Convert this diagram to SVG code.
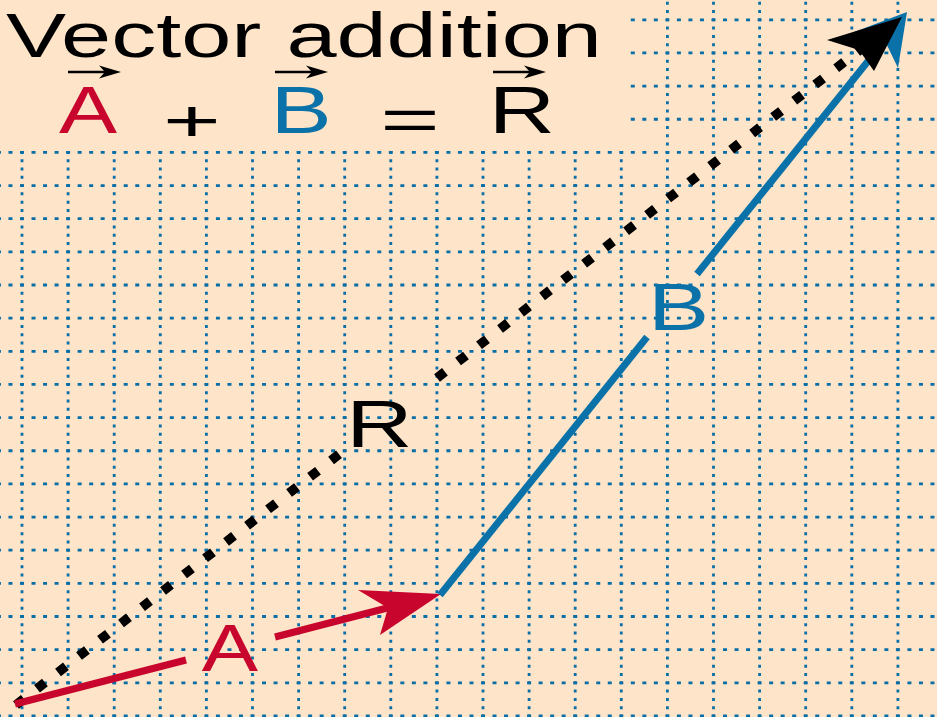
<svg xmlns="http://www.w3.org/2000/svg" xmlns:xlink="http://www.w3.org/1999/xlink" width="937" height="717" viewBox="0 0 937 717">
<style>
  .bg { fill: #FEE4C8; }
  .gv { stroke: #0A6EA6; stroke-width: 2.8; stroke-dasharray: 3 5.2875; fill: none; }
  .gh { stroke: #0A6EA6; stroke-width: 2.8; stroke-dasharray: 4 7.525; fill: none; }
  .txt { font-family: "Liberation Sans", Arial, sans-serif; }
  .red { fill: #C8052D; }
  .blue { fill: #0A72A8; }
  .blk { fill: #000; }
  .shaftA { stroke: #C8052D; stroke-width: 7; fill: none; }
  .shaftB { stroke: #0A72A8; stroke-width: 7; fill: none; }
  .shaftR { stroke: #000; stroke-width: 9.5; stroke-dasharray: 10 16.59; fill: none; }
</style>
<defs>
  <g id="ovarrow">
    <line x1="0" y1="0" x2="44" y2="0" stroke="#000" stroke-width="2.6"/>
    <polygon points="53,0 31,-6.5 37,0 31,6.5" fill="#000"/>
  </g>
</defs>
<rect class="bg" x="0" y="0" width="937" height="717"/>
<g id="grid">
  <line class="gv" x1="22" y1="150.9" x2="22" y2="717"/>
  <line class="gv" x1="68.1" y1="150.9" x2="68.1" y2="717"/>
  <line class="gv" x1="114.2" y1="150.9" x2="114.2" y2="717"/>
  <line class="gv" x1="160.3" y1="150.9" x2="160.3" y2="717"/>
  <line class="gv" x1="206.4" y1="150.9" x2="206.4" y2="717"/>
  <line class="gv" x1="252.5" y1="150.9" x2="252.5" y2="717"/>
  <line class="gv" x1="298.6" y1="150.9" x2="298.6" y2="717"/>
  <line class="gv" x1="344.7" y1="150.9" x2="344.7" y2="717"/>
  <line class="gv" x1="390.8" y1="150.9" x2="390.8" y2="717"/>
  <line class="gv" x1="436.9" y1="150.9" x2="436.9" y2="717"/>
  <line class="gv" x1="483" y1="150.9" x2="483" y2="717"/>
  <line class="gv" x1="529.1" y1="150.9" x2="529.1" y2="717"/>
  <line class="gv" x1="575.2" y1="150.9" x2="575.2" y2="717"/>
  <line class="gv" x1="621.3" y1="150.9" x2="621.3" y2="717"/>
  <line class="gv" x1="667.4" y1="-14.85" x2="667.4" y2="717"/>
  <line class="gv" x1="713.5" y1="-14.85" x2="713.5" y2="717"/>
  <line class="gv" x1="759.6" y1="-14.85" x2="759.6" y2="717"/>
  <line class="gv" x1="805.7" y1="-14.85" x2="805.7" y2="717"/>
  <line class="gv" x1="851.8" y1="-14.85" x2="851.8" y2="717"/>
  <line class="gv" x1="897.9" y1="-14.85" x2="897.9" y2="717"/>
  <line class="gh" x1="630.8" y1="19.8" x2="940" y2="19.8"/>
  <line class="gh" x1="630.8" y1="52.95" x2="940" y2="52.95"/>
  <line class="gh" x1="630.8" y1="86.1" x2="940" y2="86.1"/>
  <line class="gh" x1="630.8" y1="119.25" x2="940" y2="119.25"/>
  <line class="gh" x1="-26.1" y1="152.4" x2="940" y2="152.4"/>
  <line class="gh" x1="-26.1" y1="185.55" x2="940" y2="185.55"/>
  <line class="gh" x1="-26.1" y1="218.7" x2="940" y2="218.7"/>
  <line class="gh" x1="-26.1" y1="251.85" x2="940" y2="251.85"/>
  <line class="gh" x1="-26.1" y1="285" x2="940" y2="285"/>
  <line class="gh" x1="-26.1" y1="318.15" x2="940" y2="318.15"/>
  <line class="gh" x1="-26.1" y1="351.3" x2="940" y2="351.3"/>
  <line class="gh" x1="-26.1" y1="384.45" x2="940" y2="384.45"/>
  <line class="gh" x1="-26.1" y1="417.6" x2="940" y2="417.6"/>
  <line class="gh" x1="-26.1" y1="450.75" x2="940" y2="450.75"/>
  <line class="gh" x1="-26.1" y1="483.9" x2="940" y2="483.9"/>
  <line class="gh" x1="-26.1" y1="517.05" x2="940" y2="517.05"/>
  <line class="gh" x1="-26.1" y1="550.2" x2="940" y2="550.2"/>
  <line class="gh" x1="-26.1" y1="583.35" x2="940" y2="583.35"/>
  <line class="gh" x1="-26.1" y1="616.5" x2="940" y2="616.5"/>
  <line class="gh" x1="-26.1" y1="649.65" x2="940" y2="649.65"/>
  <line class="gh" x1="-26.1" y1="682.8" x2="940" y2="682.8"/>
  <line class="gh" x1="-26.1" y1="715.95" x2="940" y2="715.95"/>
</g>
<g id="title">
  <text class="txt blk" font-size="63" transform="translate(6,57) scale(1.43,1)">Vector addition</text>
</g>
<g id="equation">
  <use xlink:href="#ovarrow" href="#ovarrow" transform="translate(68,72)"/>
  <use xlink:href="#ovarrow" href="#ovarrow" transform="translate(275,72)"/>
  <use xlink:href="#ovarrow" href="#ovarrow" transform="translate(493,72)"/>
  <text class="txt red" font-size="67" text-anchor="middle" transform="translate(88,133) scale(1.3,1)">A</text>
  <text class="txt blk" font-size="60" text-anchor="middle" transform="translate(192,141) scale(1.65,1)">+</text>
  <text class="txt blue" font-size="67" text-anchor="middle" transform="translate(301,133) scale(1.37,1)">B</text>
  <text class="txt blk" font-size="60" text-anchor="middle" transform="translate(410,140) scale(1.7,1)">=</text>
  <text class="txt blk" font-size="67" text-anchor="middle" transform="translate(522,133) scale(1.37,1)">R</text>
</g>
<g id="connectors">
  <g id="vector-R">
    <line class="shaftR" x1="16" y1="705" x2="342" y2="452"/>
    <line class="shaftR" x1="424" y1="388" x2="870" y2="42" stroke-dashoffset="10.1"/>
  </g>
  <g id="vector-A">
    <line class="shaftA" x1="15" y1="704" x2="186" y2="660"/>
    <line class="shaftA" x1="275" y1="637" x2="395" y2="606"/>
    <polygon class="red" points="441,594 358,590 388,608 380,635"/>
  </g>
  <g id="vector-B">
    <line class="shaftB" x1="440" y1="595" x2="647" y2="337"/>
    <line class="shaftB" x1="697" y1="274" x2="885" y2="40"/>
    <polygon class="blue" points="907,12 898,68 884,39 854,32"/>
  </g>
  <polygon id="head-R" class="blk" points="902,17 827,40 859,50 874,71"/>
</g>
<g id="label-A"><text class="txt red" font-size="67" text-anchor="middle" transform="translate(230,671) scale(1.26,1)">A</text></g>
<g id="label-B"><text class="txt blue" font-size="67" text-anchor="middle" transform="translate(678.5,330) scale(1.37,1)">B</text></g>
<g id="label-R"><text class="txt blk" font-size="67" text-anchor="middle" transform="translate(379.5,447) scale(1.37,1)">R</text></g>
</svg>
